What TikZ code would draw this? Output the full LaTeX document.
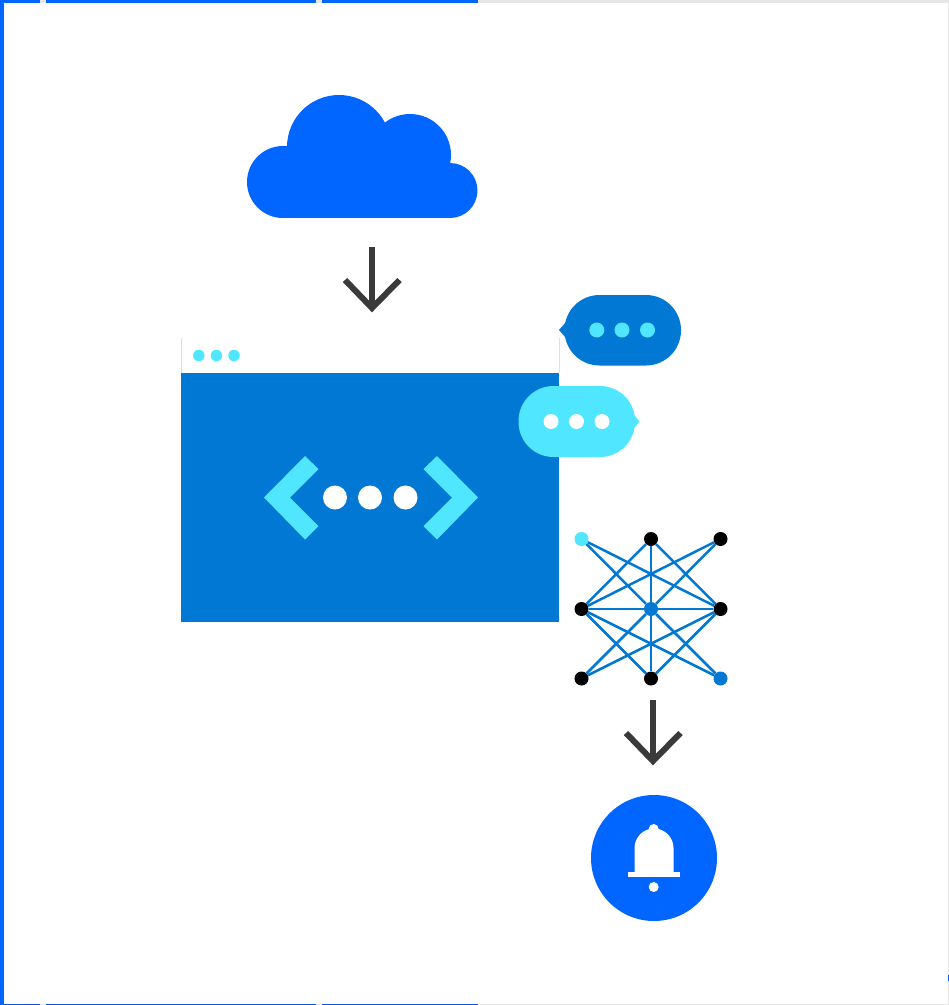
\documentclass[tikz,border=0pt]{standalone}
\definecolor{brandblue}{HTML}{0066FF}
\definecolor{azure}{HTML}{0078D4}
\definecolor{cyanlight}{HTML}{50E6FF}
\definecolor{arrowgray}{HTML}{3A3A3A}
\definecolor{edgegray}{HTML}{E6E6E6}
\definecolor{hairline}{HTML}{D2E2F2}
\tikzset{
  dotnode/.style={circle,inner sep=0pt,minimum size=#1,draw=none},
  netnode/.style={dotnode=14pt,fill=black},
  netedge/.style={draw=azure,line width=2.5pt},
  bigarrow/.style={draw=arrowgray,line width=6pt,miter limit=10},
  bubble/.style={rounded corners=35pt},
}
\begin{document}
\begin{tikzpicture}[x=1pt,y=-1pt]
\useasboundingbox (0,0) rectangle (949,1005);
\fill[white] (0,0) rectangle (949,1005);
% frame
\fill[edgegray] (478,0) rectangle (949,3);
\fill[edgegray] (947.7,0) rectangle (949,1005);
\fill[edgegray] (478,1003.7) rectangle (949,1005);
\fill[edgegray] (40,0) rectangle (46,3);
\fill[edgegray] (316,0) rectangle (322,3);
\fill[edgegray] (40,1004) rectangle (46,1005);
\fill[edgegray] (316,1004) rectangle (322,1005);
\fill[brandblue] (0,0) rectangle (40,3);
\fill[brandblue] (46,0) rectangle (316,3);
\fill[brandblue] (322,0) rectangle (478,3);
\fill[brandblue!85!black] (4,1004) rectangle (40,1005);
\fill[brandblue!85!black] (46,1004) rectangle (316,1005);
\fill[brandblue!85!black] (322,1004) rectangle (478,1005);
\fill[brandblue] (0,0) rectangle (4,1005);
\fill[brandblue] (948,975) rectangle (949,981);
% cloud
\fill[brandblue] (283,182) circle[radius=36];
\fill[brandblue] (339,147) circle[radius=52];
\fill[brandblue] (410,155) circle[radius=41];
\fill[brandblue] (450,190.5) circle[radius=27.5];
\fill[brandblue] (283,163) rectangle (450,218);
\fill[brandblue] (287,146) rectangle (400,170);
% arrow cloud -> window
\coordinate (a1top) at (372,247);
\coordinate (a1tip) at (372,308);
\coordinate (a1l) at (345,280);
\coordinate (a1r) at (399.5,280);
\draw[bigarrow] (a1top) -- (a1tip);
\draw[bigarrow] (a1l) -- (a1tip) -- (a1r);
% window
\fill[azure] (181,373) rectangle (559,621.5);
\draw[hairline,line width=.8pt] (181,338) -- (181,373) (559,338) -- (559,373);
\foreach \n/\x in {a/198.8,b/216.4,c/234}
  \node[dotnode=11.5pt,fill=cyanlight] (win\n) at (\x,355.5) {};
\fill[cyanlight] (264,497.5) -- (305,456) -- (318.5,469) -- (290,497.5) -- (318.5,526) -- (305,539.5) -- cycle;
\fill[cyanlight] (478,497.5) -- (437,456) -- (423.5,469) -- (452,497.5) -- (423.5,526) -- (437,539.5) -- cycle;
\foreach \n/\x in {a/335,b/370,c/405.5}
  \node[dotnode=24pt,fill=white] (code\n) at (\x,497.5) {};
% dark bubble
\fill[azure,bubble] (564.5,295) rectangle (681,365.5);
\fill[azure] (559,330) -- (566,322) -- (566,338) -- cycle;
\foreach \n/\x in {a/596.8,b/622,c/647.5}
  \node[dotnode=15pt,fill=cyanlight] (dark\n) at (\x,330) {};
% light bubble
\fill[cyanlight,bubble] (518.5,386) rectangle (635,457);
\fill[cyanlight] (639.5,421.5) -- (633,413.5) -- (633,429.5) -- cycle;
\foreach \n/\x in {a/551,b/576.5,c/602}
  \node[dotnode=15pt,fill=white] (light\n) at (\x,421.5) {};
% network
\node[netnode,fill=cyanlight] (tl) at (581.5,539) {};
\node[netnode] (tm) at (651,539) {};
\node[netnode] (tr) at (720.5,539) {};
\node[netnode] (ml) at (581.5,609) {};
\node[netnode,fill=azure] (mc) at (651,609) {};
\node[netnode] (mr) at (720.5,609) {};
\node[netnode] (bl) at (581.5,678.5) {};
\node[netnode] (bm) at (651,678.5) {};
\node[netnode,fill=azure] (br) at (720.5,678.5) {};
\foreach \p/\q in {tl/mc,tl/mr,tm/ml,tm/mc,tm/mr,tr/ml,tr/mc,ml/mc,mc/mr,
                   bl/mc,bl/mr,bm/ml,bm/mc,bm/mr,br/ml,br/mc}
  \draw[netedge] (\p) -- (\q);
% arrow network -> bell
\coordinate (a2top) at (653,700);
\coordinate (a2tip) at (653,761);
\coordinate (a2l) at (626,733);
\coordinate (a2r) at (680.5,733);
\draw[bigarrow] (a2top) -- (a2tip);
\draw[bigarrow] (a2l) -- (a2tip) -- (a2r);
% bell
\node[dotnode=126pt,fill=brandblue] (bell) at (654,858) {};
\fill[white] (634.5,872) -- (634.5,848) arc[start angle=180,end angle=360,radius=19.5] -- (673.5,872) -- cycle;
\node[dotnode=10pt,fill=white] (knob) at (653.7,829) {};
\fill[white] (628,872) rectangle (679.5,877);
\node[dotnode=10pt,fill=white] (clapper) at (653.7,887) {};
\end{tikzpicture}
\end{document}
